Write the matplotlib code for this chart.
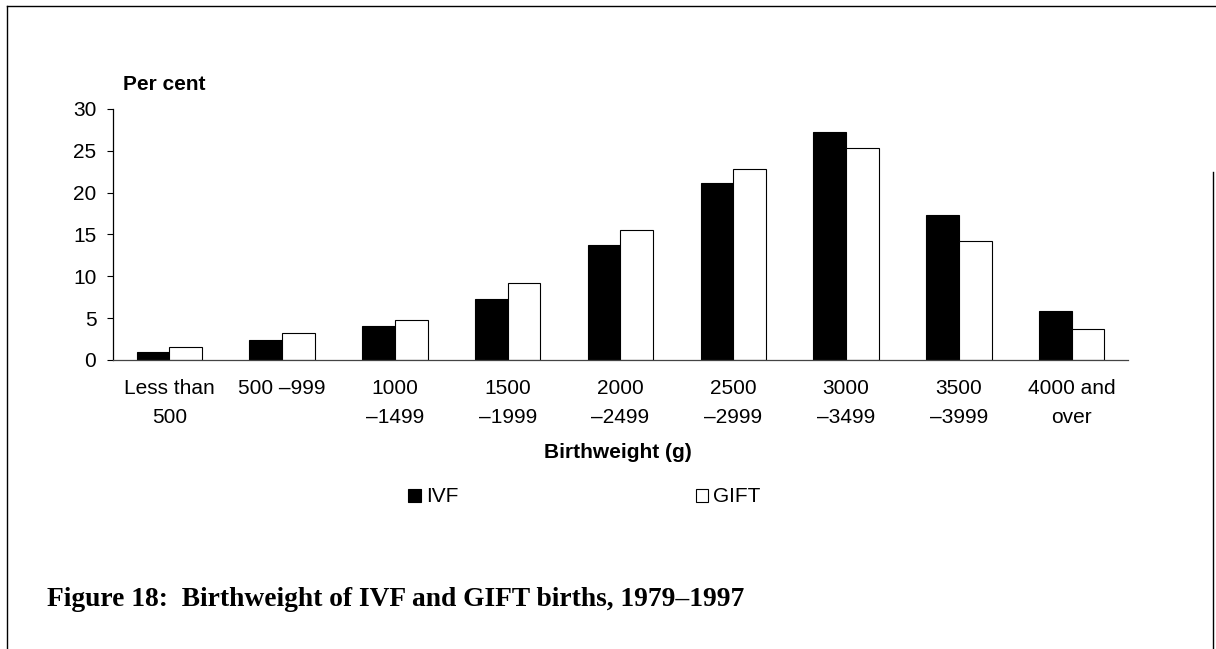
import matplotlib
matplotlib.use("Agg")
import matplotlib.pyplot as plt
from matplotlib.lines import Line2D
import numpy as np

# data
categories = ["Less than\n500", "500 \u2013999", "1000\n\u20131499", "1500\n\u20131999",
              "2000\n\u20132499", "2500\n\u20132999", "3000\n\u20133499", "3500\n\u20133999",
              "4000 and\nover"]
ivf = [1.0, 2.4, 4.1, 7.3, 13.8, 21.1, 27.2, 17.3, 5.8]
gift = [1.5, 3.2, 4.8, 9.2, 15.5, 22.8, 25.3, 14.2, 3.7]
yticks = [0, 5, 10, 15, 20, 25, 30]

plt.rcParams["font.family"] = ["Liberation Sans", "DejaVu Sans"]

W, H = 1216, 649
FS = 15
fig = plt.figure(figsize=(W / 100, H / 100), dpi=100)
ax = fig.add_axes([113 / W, 1 - 360 / H, (1128 - 113) / W, (360 - 109) / H])

x = np.arange(len(categories))
bw = 0.29
b1 = ax.bar(x - bw / 2, ivf, bw, color="black", edgecolor="black", linewidth=0.8, label="IVF")
b2 = ax.bar(x + bw / 2, gift, bw, color="white", edgecolor="black", linewidth=0.8, label="GIFT")

ax.set_xlim(-0.5, len(categories) - 0.5)
ax.set_ylim(0, 30)
ax.set_yticks(yticks)
ax.set_xticks(x)
ax.set_xticklabels(categories, fontsize=FS, linespacing=1.65)
ax.tick_params(axis="x", length=0, pad=14)
ax.tick_params(axis="y", length=4, width=0.8, labelsize=FS, pad=8)
for s in ["top", "right"]:
    ax.spines[s].set_visible(False)
ax.spines["left"].set_linewidth(0.9)
ax.spines["bottom"].set_linewidth(0.9)
ax.spines["bottom"].set_color("#444444")

fig.text(123 / W, 1 - 85 / H, "Per cent", fontsize=FS, fontweight="bold", ha="left", va="center")
fig.text(618 / W, 1 - 453 / H, "Birthweight (g)", fontsize=FS, fontweight="bold", ha="center", va="center")

fig.legend(handles=[b1, b2], labels=["IVF", "GIFT"], ncol=2, frameon=False, fontsize=FS,
           handlelength=0.6, handleheight=0.6, handletextpad=0.25, columnspacing=11.4,
           loc="center left", bbox_to_anchor=(408 / W, 1 - 497 / H), borderpad=0, borderaxespad=0)

fig.text(47 / W, 1 - 600 / H, "Figure 18:  Birthweight of IVF and GIFT births, 1979\u20131997",
         fontsize=19.8, fontweight="bold", family=["Liberation Serif", "DejaVu Serif"],
         ha="left", va="center")

# page frame
fig.add_artist(Line2D([7 / W, 1], [1 - 6 / H, 1 - 6 / H], transform=fig.transFigure, color="black", lw=1))
fig.add_artist(Line2D([7 / W, 7 / W], [0, 1 - 6 / H], transform=fig.transFigure, color="black", lw=1))
fig.add_artist(Line2D([1213 / W, 1213 / W], [0, 1 - 172 / H], transform=fig.transFigure, color="black", lw=1))

fig.savefig("out.png", dpi=100)
